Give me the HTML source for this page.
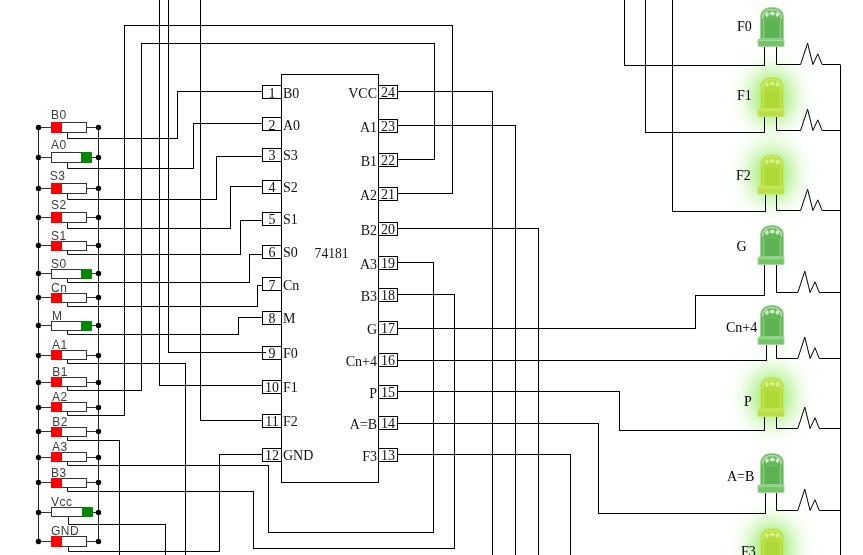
<!DOCTYPE html>
<html><head><meta charset="utf-8"><style>
html,body{margin:0;padding:0;background:#fff;}
svg{display:block;will-change:transform;}
.sl{font-family:"Liberation Sans",sans-serif;font-size:12px;fill:#3c3c3c;letter-spacing:0.5px;}
.ll{font-family:"Liberation Serif",serif;font-size:14px;fill:#000;}
.pn{font-family:"Liberation Serif",serif;font-size:14px;fill:#111;}
.cl{font-family:"Liberation Serif",serif;font-size:14px;fill:#111;}
</style></head><body>
<svg width="863" height="555" viewBox="0 0 863 555">
<defs>
<filter id="blur" x="-100%" y="-100%" width="300%" height="300%"><feGaussianBlur stdDeviation="12"/></filter>

</defs>
<rect width="863" height="555" fill="#fff"/>
<g id="glows"><rect x="754" y="73" width="36" height="48" rx="14" fill="#84e84c" opacity="0.95" filter="url(#blur)"/><rect x="754" y="150.5" width="36" height="48" rx="14" fill="#84e84c" opacity="0.95" filter="url(#blur)"/><rect x="754" y="373" width="36" height="48" rx="14" fill="#84e84c" opacity="0.95" filter="url(#blur)"/><rect x="754" y="524" width="36" height="48" rx="14" fill="#84e84c" opacity="0.95" filter="url(#blur)"/></g>
<g fill="none" stroke-width="1" shape-rendering="crispEdges"><path d="M98,138.5 L177.5,138.5 L177.5,91.5 L262.5,91.5" stroke="#000"/><path d="M98,168.5 L193.5,168.5 L193.5,123.5 L262.5,123.5" stroke="#000"/><path d="M98,199.5 L216.5,199.5 L216.5,156.5 L262.5,156.5" stroke="#000"/><path d="M98,228.5 L230.5,228.5 L230.5,186.5 L262.5,186.5" stroke="#000"/><path d="M98,254.5 L240.5,254.5 L240.5,220.5 L262.5,220.5" stroke="#000"/><path d="M98,282.5 L249.5,282.5 L249.5,254.5 L262.5,254.5" stroke="#000"/><path d="M98,306.5 L257.5,306.5 L257.5,285.5 L262.5,285.5" stroke="#000"/><path d="M98,334.5 L238.5,334.5 L238.5,317.5 L262.5,317.5" stroke="#000"/><path d="M98,363.5 L185.5,363.5 L185.5,556" stroke="#000"/><path d="M98,390.5 L141.5,390.5 L141.5,43.5 L434.5,43.5 L434.5,159.5 L397.5,159.5" stroke="#000"/><path d="M98,415.5 L124.5,415.5 L124.5,25.5 L452.5,25.5 L452.5,193.5 L397.5,193.5" stroke="#000"/><path d="M98,440.5 L119.5,440.5 L119.5,556" stroke="#000"/><path d="M98,465.5 L268.5,465.5 L268.5,532.5 L433.5,532.5 L433.5,262.5 L397.5,262.5" stroke="#000"/><path d="M98,491.5 L253.5,491.5 L253.5,548.5 L454.5,548.5 L454.5,294.5 L397.5,294.5" stroke="#000"/><path d="M98,524.5 L165.5,524.5 L165.5,556" stroke="#000"/><path d="M98,551.5 L219.5,551.5 L219.5,454.5 L262.5,454.5" stroke="#000"/><path d="M266,352.5 L168.5,352.5 L168.5,-1" stroke="#000"/><path d="M262.5,385.5 L159.5,385.5 L159.5,-1" stroke="#000"/><path d="M262.5,420.5 L200.5,420.5 L200.5,-1" stroke="#000"/><path d="M397.5,91.5 L492.5,91.5 L492.5,556" stroke="#000"/><path d="M397.5,125.5 L515.5,125.5 L515.5,556" stroke="#000"/><path d="M397.5,228.5 L538.5,228.5 L538.5,556" stroke="#000"/><path d="M397.5,454.5 L570.5,454.5 L570.5,556" stroke="#000"/><path d="M397.5,423.5 L598.5,423.5 L598.5,513.5 L765.5,513.5" stroke="#000"/><path d="M397.5,391.5 L619.5,391.5 L619.5,430.5 L764.5,430.5" stroke="#000"/><path d="M397.5,360.5 L766.5,360.5" stroke="#000"/><path d="M397.5,328.5 L695.5,328.5 L695.5,295.5 L764.5,295.5" stroke="#000"/><path d="M624.5,-1 L624.5,65.5 L764.5,65.5" stroke="#000"/><path d="M645.5,-1 L645.5,132.5 L764.5,132.5" stroke="#000"/><path d="M672.5,-1 L672.5,211.5 L765.5,211.5" stroke="#000"/><path d="M840.5,64.5 L840.5,556" stroke="#000"/></g>
<g fill="none"><path d="M764.5,47 V65.5" stroke="#000"/><path d="M776.5,47 V64.5 H800.6 L807.6,43.2 L812.9,64.5 L817.8000000000001,53.8 L822.1,64.5 H840.5" stroke="#000" fill="none" stroke-linejoin="miter"/><path d="M760.5,39 V18 C760.5,11 764.5,7.5 772,7.5 C779.5,7.5 783.5,11 783.5,18 V39 Z" fill="#66b95a" stroke="#a6d89c" stroke-width="1"/><rect x="766" y="21" width="12" height="17" fill="#5cb150"/><path d="M762.5,19 C762.5,12 766,9.5 772,9.5 C778,9.5 781.5,12 781.5,19" stroke="#b4dcaa" stroke-width="1.5" fill="none"/><ellipse cx="767" cy="14.5" rx="1.8" ry="2.2" fill="#d4ecd0"/><ellipse cx="772.3" cy="13.5" rx="2.5" ry="2" fill="#d4ecd0"/><ellipse cx="777.5" cy="14.5" rx="1.8" ry="2.2" fill="#d4ecd0"/><path d="M763.5,20 V38 M780.5,20 V38" stroke="#b4dcaa" stroke-width="1" opacity="0.55"/><rect x="758" y="39" width="26" height="7.5" rx="1" fill="#76c46a" stroke="#a6d89c" stroke-width="1"/><path d="M759,40.5 H783" stroke="#b4dcaa" stroke-width="1" opacity="0.8"/><text x="737" y="31" class="ll">F0</text><path d="M764.5,117 V132.5" stroke="#000"/><path d="M776.5,117 V130.5 H800.6 L807.6,109.2 L812.9,130.5 L817.8000000000001,119.8 L822.1,130.5 H840.5" stroke="#000" fill="none" stroke-linejoin="miter"/><path d="M760.5,109 V88 C760.5,81 764.5,77.5 772,77.5 C779.5,77.5 783.5,81 783.5,88 V109 Z" fill="#b4de40" stroke="#c8ea60" stroke-width="1"/><rect x="766" y="91" width="12" height="17" fill="#acd936"/><path d="M762.5,89 C762.5,82 766,79.5 772,79.5 C778,79.5 781.5,82 781.5,89" stroke="#cbec6c" stroke-width="1.5" fill="none"/><ellipse cx="767" cy="84.5" rx="1.8" ry="2.2" fill="#d8f290"/><ellipse cx="772.3" cy="83.5" rx="2.5" ry="2" fill="#d8f290"/><ellipse cx="777.5" cy="84.5" rx="1.8" ry="2.2" fill="#d8f290"/><path d="M763.5,90 V108 M780.5,90 V108" stroke="#cbec6c" stroke-width="1" opacity="0.55"/><rect x="758" y="109" width="26" height="7.5" rx="1" fill="#b8e046" stroke="#c8ea60" stroke-width="1"/><path d="M759,110.5 H783" stroke="#cbec6c" stroke-width="1" opacity="0.8"/><text x="737" y="100" class="ll">F1</text><path d="M765.5,194.5 V211.5" stroke="#000"/><path d="M776.5,194.5 V210.5 H800.6 L807.6,189.2 L812.9,210.5 L817.8000000000001,199.8 L822.1,210.5 H840.5" stroke="#000" fill="none" stroke-linejoin="miter"/><path d="M760.5,186.5 V165.5 C760.5,158.5 764.5,155.0 772,155.0 C779.5,155.0 783.5,158.5 783.5,165.5 V186.5 Z" fill="#b4de40" stroke="#c8ea60" stroke-width="1"/><rect x="766" y="168.5" width="12" height="17.0" fill="#acd936"/><path d="M762.5,166.5 C762.5,159.5 766,157.0 772,157.0 C778,157.0 781.5,159.5 781.5,166.5" stroke="#cbec6c" stroke-width="1.5" fill="none"/><ellipse cx="767" cy="162.0" rx="1.8" ry="2.2" fill="#d8f290"/><ellipse cx="772.3" cy="161.0" rx="2.5" ry="2" fill="#d8f290"/><ellipse cx="777.5" cy="162.0" rx="1.8" ry="2.2" fill="#d8f290"/><path d="M763.5,167.5 V185.5 M780.5,167.5 V185.5" stroke="#cbec6c" stroke-width="1" opacity="0.55"/><rect x="758" y="186.5" width="26" height="7.5" rx="1" fill="#b8e046" stroke="#c8ea60" stroke-width="1"/><path d="M759,188.0 H783" stroke="#cbec6c" stroke-width="1" opacity="0.8"/><text x="736" y="180" class="ll">F2</text><path d="M764.5,265 V295.5" stroke="#000"/><path d="M776.5,265 V292.5 H797.8 L804.8,271.2 L810.0999999999999,292.5 L815.0,281.8 L819.3,292.5 H840.5" stroke="#000" fill="none" stroke-linejoin="miter"/><path d="M760.5,257 V236 C760.5,229 764.5,225.5 772,225.5 C779.5,225.5 783.5,229 783.5,236 V257 Z" fill="#66b95a" stroke="#a6d89c" stroke-width="1"/><rect x="766" y="239" width="12" height="17" fill="#5cb150"/><path d="M762.5,237 C762.5,230 766,227.5 772,227.5 C778,227.5 781.5,230 781.5,237" stroke="#b4dcaa" stroke-width="1.5" fill="none"/><ellipse cx="767" cy="232.5" rx="1.8" ry="2.2" fill="#d4ecd0"/><ellipse cx="772.3" cy="231.5" rx="2.5" ry="2" fill="#d4ecd0"/><ellipse cx="777.5" cy="232.5" rx="1.8" ry="2.2" fill="#d4ecd0"/><path d="M763.5,238 V256 M780.5,238 V256" stroke="#b4dcaa" stroke-width="1" opacity="0.55"/><rect x="758" y="257" width="26" height="7.5" rx="1" fill="#76c46a" stroke="#a6d89c" stroke-width="1"/><path d="M759,258.5 H783" stroke="#b4dcaa" stroke-width="1" opacity="0.8"/><text x="736.6" y="251" class="ll">G</text><path d="M766.5,345 V360.5" stroke="#000"/><path d="M776.5,345 V358.5 H797.8 L804.8,337.2 L810.0999999999999,358.5 L815.0,347.8 L819.3,358.5 H840.5" stroke="#000" fill="none" stroke-linejoin="miter"/><path d="M760.5,337 V316 C760.5,309 764.5,305.5 772,305.5 C779.5,305.5 783.5,309 783.5,316 V337 Z" fill="#66b95a" stroke="#a6d89c" stroke-width="1"/><rect x="766" y="319" width="12" height="17" fill="#5cb150"/><path d="M762.5,317 C762.5,310 766,307.5 772,307.5 C778,307.5 781.5,310 781.5,317" stroke="#b4dcaa" stroke-width="1.5" fill="none"/><ellipse cx="767" cy="312.5" rx="1.8" ry="2.2" fill="#d4ecd0"/><ellipse cx="772.3" cy="311.5" rx="2.5" ry="2" fill="#d4ecd0"/><ellipse cx="777.5" cy="312.5" rx="1.8" ry="2.2" fill="#d4ecd0"/><path d="M763.5,318 V336 M780.5,318 V336" stroke="#b4dcaa" stroke-width="1" opacity="0.55"/><rect x="758" y="337" width="26" height="7.5" rx="1" fill="#76c46a" stroke="#a6d89c" stroke-width="1"/><path d="M759,338.5 H783" stroke="#b4dcaa" stroke-width="1" opacity="0.8"/><text x="726" y="332" class="ll">Cn+4</text><path d="M764.5,417 V430.5" stroke="#000"/><path d="M776.5,417 V428.5 H797.8 L804.8,407.2 L810.0999999999999,428.5 L815.0,417.8 L819.3,428.5 H840.5" stroke="#000" fill="none" stroke-linejoin="miter"/><path d="M760.5,409 V388 C760.5,381 764.5,377.5 772,377.5 C779.5,377.5 783.5,381 783.5,388 V409 Z" fill="#b4de40" stroke="#c8ea60" stroke-width="1"/><rect x="766" y="391" width="12" height="17" fill="#acd936"/><path d="M762.5,389 C762.5,382 766,379.5 772,379.5 C778,379.5 781.5,382 781.5,389" stroke="#cbec6c" stroke-width="1.5" fill="none"/><ellipse cx="767" cy="384.5" rx="1.8" ry="2.2" fill="#d8f290"/><ellipse cx="772.3" cy="383.5" rx="2.5" ry="2" fill="#d8f290"/><ellipse cx="777.5" cy="384.5" rx="1.8" ry="2.2" fill="#d8f290"/><path d="M763.5,390 V408 M780.5,390 V408" stroke="#cbec6c" stroke-width="1" opacity="0.55"/><rect x="758" y="409" width="26" height="7.5" rx="1" fill="#b8e046" stroke="#c8ea60" stroke-width="1"/><path d="M759,410.5 H783" stroke="#cbec6c" stroke-width="1" opacity="0.8"/><text x="744" y="406" class="ll">P</text><path d="M765.5,493 V513.5" stroke="#000"/><path d="M776.5,493 V510.5 H797.8 L804.8,489.2 L810.0999999999999,510.5 L815.0,499.8 L819.3,510.5 H840.5" stroke="#000" fill="none" stroke-linejoin="miter"/><path d="M760.5,485 V464 C760.5,457 764.5,453.5 772,453.5 C779.5,453.5 783.5,457 783.5,464 V485 Z" fill="#66b95a" stroke="#a6d89c" stroke-width="1"/><rect x="766" y="467" width="12" height="17" fill="#5cb150"/><path d="M762.5,465 C762.5,458 766,455.5 772,455.5 C778,455.5 781.5,458 781.5,465" stroke="#b4dcaa" stroke-width="1.5" fill="none"/><ellipse cx="767" cy="460.5" rx="1.8" ry="2.2" fill="#d4ecd0"/><ellipse cx="772.3" cy="459.5" rx="2.5" ry="2" fill="#d4ecd0"/><ellipse cx="777.5" cy="460.5" rx="1.8" ry="2.2" fill="#d4ecd0"/><path d="M763.5,466 V484 M780.5,466 V484" stroke="#b4dcaa" stroke-width="1" opacity="0.55"/><rect x="758" y="485" width="26" height="7.5" rx="1" fill="#76c46a" stroke="#a6d89c" stroke-width="1"/><path d="M759,486.5 H783" stroke="#b4dcaa" stroke-width="1" opacity="0.8"/><text x="727" y="481" class="ll">A=B</text><path d="M765.5,568 V600.5" stroke="#000"/><path d="M776.5,568 V600.5 H797.8 L804.8,579.2 L810.0999999999999,600.5 L815.0,589.8 L819.3,600.5 H840.5" stroke="#000" fill="none" stroke-linejoin="miter"/><path d="M760.5,560 V539 C760.5,532 764.5,528.5 772,528.5 C779.5,528.5 783.5,532 783.5,539 V560 Z" fill="#b4de40" stroke="#c8ea60" stroke-width="1"/><rect x="766" y="542" width="12" height="17" fill="#acd936"/><path d="M762.5,540 C762.5,533 766,530.5 772,530.5 C778,530.5 781.5,533 781.5,540" stroke="#cbec6c" stroke-width="1.5" fill="none"/><ellipse cx="767" cy="535.5" rx="1.8" ry="2.2" fill="#d8f290"/><ellipse cx="772.3" cy="534.5" rx="2.5" ry="2" fill="#d8f290"/><ellipse cx="777.5" cy="535.5" rx="1.8" ry="2.2" fill="#d8f290"/><path d="M763.5,541 V559 M780.5,541 V559" stroke="#cbec6c" stroke-width="1" opacity="0.55"/><rect x="758" y="560" width="26" height="7.5" rx="1" fill="#b8e046" stroke="#c8ea60" stroke-width="1"/><path d="M759,561.5 H783" stroke="#cbec6c" stroke-width="1" opacity="0.8"/><text x="741" y="556" class="ll">F3</text></g>
<g shape-rendering="crispEdges"><rect x="281.5" y="74.5" width="97" height="408" fill="#fff" stroke="#000"/><rect x="262.5" y="85.5" width="19" height="13" fill="#fff" stroke="#000"/><text x="272" y="98.2" class="pn" text-anchor="middle">1</text><text x="283" y="98.4" class="cl">B0</text><rect x="262.5" y="117.5" width="19" height="13" fill="#fff" stroke="#000"/><text x="272" y="130.2" class="pn" text-anchor="middle">2</text><text x="283" y="130.39999999999998" class="cl">A0</text><rect x="262.5" y="148.5" width="19" height="13" fill="#fff" stroke="#000"/><text x="272" y="160.2" class="pn" text-anchor="middle">3</text><text x="283" y="160.39999999999998" class="cl">S3</text><rect x="262.5" y="180.5" width="19" height="13" fill="#fff" stroke="#000"/><text x="272" y="192.2" class="pn" text-anchor="middle">4</text><text x="283" y="192.39999999999998" class="cl">S2</text><rect x="262.5" y="212.5" width="19" height="13" fill="#fff" stroke="#000"/><text x="272" y="224.2" class="pn" text-anchor="middle">5</text><text x="283" y="224.39999999999998" class="cl">S1</text><rect x="262.5" y="245.5" width="19" height="13" fill="#fff" stroke="#000"/><text x="272" y="257.2" class="pn" text-anchor="middle">6</text><text x="283" y="257.4" class="cl">S0</text><rect x="262.5" y="277.5" width="19" height="13" fill="#fff" stroke="#000"/><text x="272" y="289.8" class="pn" text-anchor="middle">7</text><text x="283" y="290.0" class="cl">Cn</text><rect x="262.5" y="311.5" width="19" height="13" fill="#fff" stroke="#000"/><text x="272" y="323" class="pn" text-anchor="middle">8</text><text x="283" y="323.2" class="cl">M</text><rect x="262.5" y="346.5" width="19" height="13" fill="#fff" stroke="#000"/><text x="272" y="358.2" class="pn" text-anchor="middle">9</text><text x="283" y="358.4" class="cl">F0</text><rect x="262.5" y="380.5" width="19" height="13" fill="#fff" stroke="#000"/><text x="272" y="392.2" class="pn" text-anchor="middle">10</text><text x="283" y="392.4" class="cl">F1</text><rect x="262.5" y="414.5" width="19" height="13" fill="#fff" stroke="#000"/><text x="272" y="426.2" class="pn" text-anchor="middle">11</text><text x="283" y="426.4" class="cl">F2</text><rect x="262.5" y="448.5" width="19" height="13" fill="#fff" stroke="#000"/><text x="272" y="460.2" class="pn" text-anchor="middle">12</text><text x="283" y="460.4" class="cl">GND</text><rect x="378.5" y="85.5" width="19" height="13" fill="#fff" stroke="#000"/><text x="388" y="96.6" class="pn" text-anchor="middle">24</text><text x="377" y="98" class="cl" text-anchor="end">VCC</text><rect x="378.5" y="119.5" width="19" height="13" fill="#fff" stroke="#000"/><text x="388" y="130.6" class="pn" text-anchor="middle">23</text><text x="377" y="132" class="cl" text-anchor="end">A1</text><rect x="378.5" y="153.5" width="19" height="13" fill="#fff" stroke="#000"/><text x="388" y="164.6" class="pn" text-anchor="middle">22</text><text x="377" y="166" class="cl" text-anchor="end">B1</text><rect x="378.5" y="187.5" width="19" height="13" fill="#fff" stroke="#000"/><text x="388" y="198.6" class="pn" text-anchor="middle">21</text><text x="377" y="200" class="cl" text-anchor="end">A2</text><rect x="378.5" y="222.5" width="19" height="13" fill="#fff" stroke="#000"/><text x="388" y="233.6" class="pn" text-anchor="middle">20</text><text x="377" y="235" class="cl" text-anchor="end">B2</text><rect x="378.5" y="256.5" width="19" height="13" fill="#fff" stroke="#000"/><text x="388" y="267.6" class="pn" text-anchor="middle">19</text><text x="377" y="269" class="cl" text-anchor="end">A3</text><rect x="378.5" y="288.5" width="19" height="13" fill="#fff" stroke="#000"/><text x="388" y="299.6" class="pn" text-anchor="middle">18</text><text x="377" y="301" class="cl" text-anchor="end">B3</text><rect x="378.5" y="321.5" width="19" height="13" fill="#fff" stroke="#000"/><text x="388" y="332.6" class="pn" text-anchor="middle">17</text><text x="377" y="334" class="cl" text-anchor="end">G</text><rect x="378.5" y="353.5" width="19" height="13" fill="#fff" stroke="#000"/><text x="388" y="364.6" class="pn" text-anchor="middle">16</text><text x="377" y="366" class="cl" text-anchor="end">Cn+4</text><rect x="378.5" y="385.5" width="19" height="13" fill="#fff" stroke="#000"/><text x="388" y="396.6" class="pn" text-anchor="middle">15</text><text x="377" y="398" class="cl" text-anchor="end">P</text><rect x="378.5" y="416.5" width="19" height="13" fill="#fff" stroke="#000"/><text x="388" y="427.6" class="pn" text-anchor="middle">14</text><text x="377" y="429" class="cl" text-anchor="end">A=B</text><rect x="378.5" y="448.5" width="19" height="13" fill="#fff" stroke="#000"/><text x="388" y="459.6" class="pn" text-anchor="middle">13</text><text x="377" y="461" class="cl" text-anchor="end">F3</text><path d="M262,352.5 H266" stroke="#000"/><text x="314.6" y="258" class="cl" style="font-size:13.6px">74181</text></g>
<g fill="none"><path d="M38.5,127.5 V541.5 M98.5,127.5 V541.5" stroke="#222"/><text x="51" y="119" class="sl">B0</text><path d="M38.5,127.5 H51.5 M86.5,127.5 H98.5" stroke="#333"/><rect x="51.5" y="122.5" width="35" height="10" fill="#fff" stroke="#333"/><rect x="51" y="122" width="11" height="11" fill="#f00"/><circle cx="38.5" cy="127.5" r="2.7" fill="#000"/><circle cx="98.5" cy="127.5" r="2.7" fill="#000"/><path d="M67.5,132.5 V138.5 H100" stroke="#111"/><text x="51" y="149" class="sl">A0</text><path d="M38.5,157.5 H51.5 M86.5,157.5 H98.5" stroke="#333"/><rect x="51.5" y="152.5" width="35" height="10" fill="#fff" stroke="#333"/><rect x="81" y="152" width="11" height="11" rx="1" fill="#080"/><circle cx="38.5" cy="157.5" r="2.7" fill="#000"/><circle cx="98.5" cy="157.5" r="2.7" fill="#000"/><path d="M67.5,162.5 V168.5 H100" stroke="#111"/><text x="49.8" y="180" class="sl">S3</text><path d="M38.5,188.5 H51.5 M86.5,188.5 H98.5" stroke="#333"/><rect x="51.5" y="183.5" width="35" height="10" fill="#fff" stroke="#333"/><rect x="51" y="183" width="11" height="11" fill="#f00"/><circle cx="38.5" cy="188.5" r="2.7" fill="#000"/><circle cx="98.5" cy="188.5" r="2.7" fill="#000"/><path d="M67.5,193.5 V199.5 H100" stroke="#111"/><text x="51" y="209" class="sl">S2</text><path d="M38.5,217.5 H51.5 M86.5,217.5 H98.5" stroke="#333"/><rect x="51.5" y="212.5" width="35" height="10" fill="#fff" stroke="#333"/><rect x="51" y="212" width="11" height="11" fill="#f00"/><circle cx="38.5" cy="217.5" r="2.7" fill="#000"/><circle cx="98.5" cy="217.5" r="2.7" fill="#000"/><path d="M67.5,222.5 V228.5 H100" stroke="#111"/><text x="51" y="240" class="sl">S1</text><path d="M38.5,245.5 H51.5 M86.5,245.5 H98.5" stroke="#333"/><rect x="51.5" y="241.5" width="35" height="9" fill="#fff" stroke="#333"/><rect x="51" y="241" width="11" height="10" fill="#f00"/><circle cx="38.5" cy="245.5" r="2.7" fill="#000"/><circle cx="98.5" cy="245.5" r="2.7" fill="#000"/><path d="M67.5,250.5 V254.5 H100" stroke="#111"/><text x="51" y="268" class="sl">S0</text><path d="M38.5,273.5 H51.5 M86.5,273.5 H98.5" stroke="#333"/><rect x="51.5" y="269.5" width="35" height="9" fill="#fff" stroke="#333"/><rect x="81" y="269" width="11" height="10" rx="1" fill="#080"/><circle cx="38.5" cy="273.5" r="2.7" fill="#000"/><circle cx="98.5" cy="273.5" r="2.7" fill="#000"/><path d="M67.5,278.5 V282.5 H100" stroke="#111"/><text x="51" y="292" class="sl">Cn</text><path d="M38.5,297.5 H51.5 M86.5,297.5 H98.5" stroke="#333"/><rect x="51.5" y="293.5" width="35" height="9" fill="#fff" stroke="#333"/><rect x="51" y="293" width="11" height="10" fill="#f00"/><circle cx="38.5" cy="297.5" r="2.7" fill="#000"/><circle cx="98.5" cy="297.5" r="2.7" fill="#000"/><path d="M67.5,302.5 V306.5 H100" stroke="#111"/><text x="52" y="320" class="sl">M</text><path d="M38.5,325.5 H51.5 M86.5,325.5 H98.5" stroke="#333"/><rect x="51.5" y="321.5" width="35" height="9" fill="#fff" stroke="#333"/><rect x="81" y="321" width="11" height="10" rx="1" fill="#080"/><circle cx="38.5" cy="325.5" r="2.7" fill="#000"/><circle cx="98.5" cy="325.5" r="2.7" fill="#000"/><path d="M67.5,330.5 V334.5 H100" stroke="#111"/><text x="52" y="348.7" class="sl">A1</text><path d="M38.5,355.5 H51.5 M86.5,355.5 H98.5" stroke="#333"/><rect x="51.5" y="350.5" width="35" height="9" fill="#fff" stroke="#333"/><rect x="51" y="350" width="11" height="10" fill="#f00"/><circle cx="38.5" cy="355.5" r="2.7" fill="#000"/><circle cx="98.5" cy="355.5" r="2.7" fill="#000"/><path d="M67.5,359.5 V363.5 H100" stroke="#111"/><text x="52.3" y="376" class="sl">B1</text><path d="M38.5,382.5 H51.5 M86.5,382.5 H98.5" stroke="#333"/><rect x="51.5" y="377.5" width="35" height="9" fill="#fff" stroke="#333"/><rect x="51" y="377" width="11" height="10" fill="#f00"/><circle cx="38.5" cy="382.5" r="2.7" fill="#000"/><circle cx="98.5" cy="382.5" r="2.7" fill="#000"/><path d="M67.5,386.5 V390.5 H100" stroke="#111"/><text x="52" y="401" class="sl">A2</text><path d="M38.5,407.5 H51.5 M86.5,407.5 H98.5" stroke="#333"/><rect x="51.5" y="402.5" width="35" height="9" fill="#fff" stroke="#333"/><rect x="51" y="402" width="11" height="10" fill="#f00"/><circle cx="38.5" cy="407.5" r="2.7" fill="#000"/><circle cx="98.5" cy="407.5" r="2.7" fill="#000"/><path d="M67.5,411.5 V415.5 H100" stroke="#111"/><text x="52.3" y="426" class="sl">B2</text><path d="M38.5,431.5 H51.5 M86.5,431.5 H98.5" stroke="#333"/><rect x="51.5" y="427.5" width="35" height="9" fill="#fff" stroke="#333"/><rect x="51" y="427" width="11" height="10" fill="#f00"/><circle cx="38.5" cy="431.5" r="2.7" fill="#000"/><circle cx="98.5" cy="431.5" r="2.7" fill="#000"/><path d="M67.5,436.5 V440.5 H100" stroke="#111"/><text x="52" y="451" class="sl">A3</text><path d="M38.5,457.5 H51.5 M86.5,457.5 H98.5" stroke="#333"/><rect x="51.5" y="452.5" width="35" height="9" fill="#fff" stroke="#333"/><rect x="51" y="452" width="11" height="10" fill="#f00"/><circle cx="38.5" cy="457.5" r="2.7" fill="#000"/><circle cx="98.5" cy="457.5" r="2.7" fill="#000"/><path d="M67.5,461.5 V465.5 H100" stroke="#111"/><text x="51" y="476.5" class="sl">B3</text><path d="M38.5,482.5 H51.5 M86.5,482.5 H98.5" stroke="#333"/><rect x="51.5" y="478.5" width="35" height="9" fill="#fff" stroke="#333"/><rect x="51" y="478" width="11" height="10" fill="#f00"/><circle cx="38.5" cy="482.5" r="2.7" fill="#000"/><circle cx="98.5" cy="482.5" r="2.7" fill="#000"/><path d="M67.5,487.5 V491.5 H100" stroke="#111"/><text x="51" y="505.5" class="sl">Vcc</text><path d="M38.5,512.5 H51.5 M86.5,512.5 H98.5" stroke="#333"/><rect x="51.5" y="507.5" width="35" height="9" fill="#fff" stroke="#333"/><rect x="82" y="507" width="11" height="10" rx="1" fill="#080"/><circle cx="38.5" cy="512.5" r="2.7" fill="#000"/><circle cx="98.5" cy="512.5" r="2.7" fill="#000"/><path d="M68.5,516.5 V524.5 H100" stroke="#111"/><text x="51" y="534.5" class="sl">GND</text><path d="M38.5,541.5 H51.5 M86.5,541.5 H98.5" stroke="#333"/><rect x="51.5" y="536.5" width="35" height="10" fill="#fff" stroke="#333"/><rect x="51" y="536" width="11" height="11" fill="#f00"/><circle cx="38.5" cy="541.5" r="2.7" fill="#000"/><circle cx="98.5" cy="541.5" r="2.7" fill="#000"/><path d="M68.5,546.5 V551.5 H100" stroke="#111"/></g>
</svg>
</body></html>
